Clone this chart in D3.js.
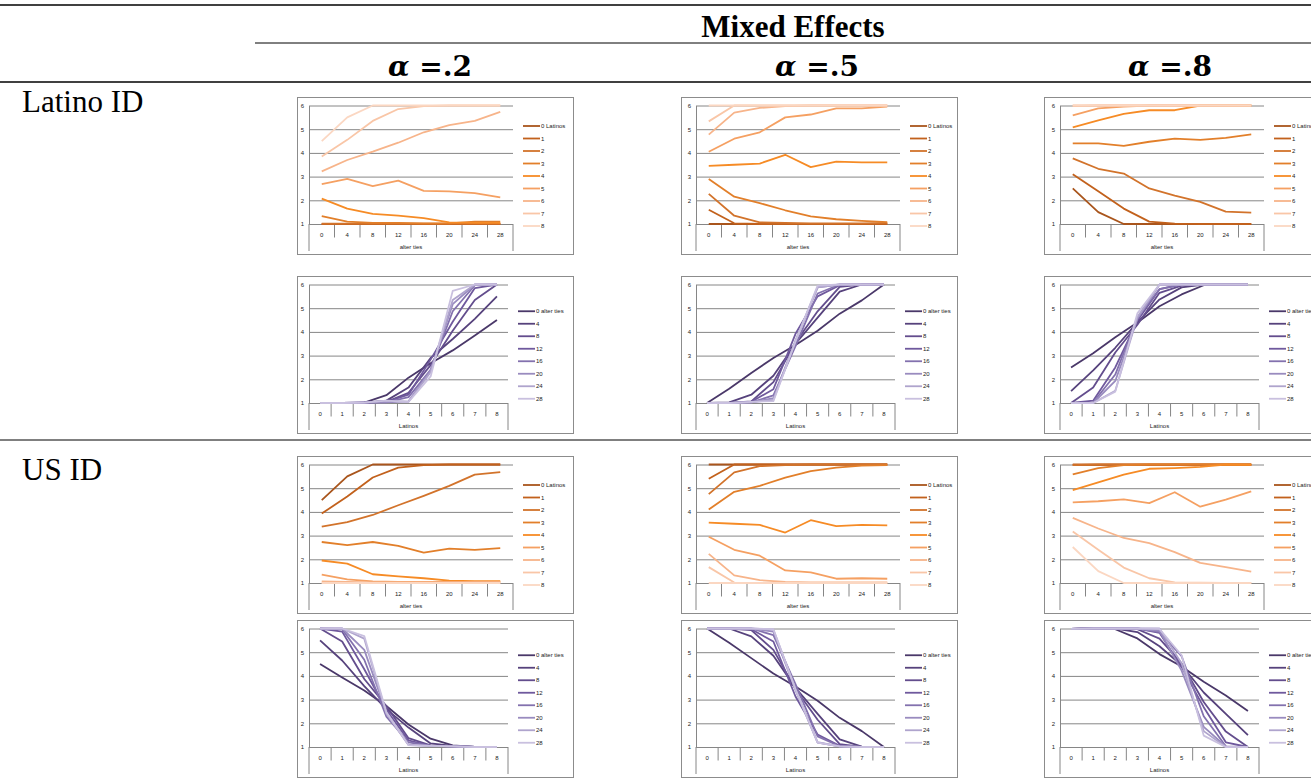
<!DOCTYPE html>
<html>
<head>
    <title>Mixed Effects - Latino ID / US ID</title>
    <script src="https://d3js.org/d3.v7.min.js"></script>
    <style>
        body { margin: 0; background: #fff; }
        svg { display: block; }
        .tick text, .lbl { font-family: "Liberation Sans", Arial, sans-serif; font-size: 6px; fill: #222; }
        .tbl { font-family: "Liberation Serif", "Times New Roman", serif; fill: #000; }
    </style>
</head>
<body>
    <svg width="1311" height="778" id="fig"></svg>

    <script>
        // categories
        const ties = [0, 4, 8, 12, 16, 20, 24, 28];
        const latinos = [0, 1, 2, 3, 4, 5, 6, 7, 8];
        const latinoNames = ["0 Latinos", "1", "2", "3", "4", "5", "6", "7", "8"];
        const tieNames = ["0 alter ties", "4", "8", "12", "16", "20", "24", "28"];
        const alphaLabels = ["=.2", "=.5", "=.8"];
        const rowLabels = ["Latino ID", "US ID"];
        const yTicks = [1, 2, 3, 4, 5, 6];

        // rows = number of Latinos (0..8), columns = alter ties (0..28)
        const latinoId2 = [
            [1, 1, 1, 1, 1, 1, 1, 1],
            [1, 1, 1, 1, 1, 1, 1, 1],
            [1.02, 1.02, 1.02, 1.02, 1.02, 1.02, 1.02, 1.02],
            [1.33, 1.1, 1.05, 1.05, 1.03, 1.03, 1.1, 1.1],
            [2.07, 1.65, 1.43, 1.35, 1.25, 1.07, 1.05, 1.05],
            [2.68, 2.9, 2.6, 2.83, 2.4, 2.38, 2.3, 2.12],
            [3.22, 3.7, 4.05, 4.43, 4.87, 5.17, 5.35, 5.73],
            [3.85, 4.55, 5.35, 5.85, 5.97, 6, 6, 6],
            [4.5, 5.5, 6, 6, 6, 6, 6, 6]
        ];
        const latinoId5 = [
            [1, 1, 1, 1, 1, 1, 1, 1],
            [1.6, 1.03, 1, 1, 1, 1, 1, 1],
            [2.27, 1.35, 1.07, 1.05, 1.03, 1.03, 1.03, 1.05],
            [2.9, 2.15, 1.88, 1.58, 1.32, 1.2, 1.13, 1.08],
            [3.45, 3.5, 3.55, 3.92, 3.4, 3.63, 3.6, 3.6],
            [4.05, 4.6, 4.87, 5.5, 5.62, 5.88, 5.88, 5.95],
            [4.77, 5.7, 5.9, 5.97, 6, 6, 6, 6],
            [5.33, 6, 6, 6, 6, 6, 6, 6],
            [6, 6, 6, 6, 6, 6, 6, 6]
        ];
        const latinoId8 = [
            [2.5, 1.5, 1, 1, 1, 1, 1, 1],
            [3.1, 2.38, 1.65, 1.1, 1.02, 1, 1, 1],
            [3.77, 3.33, 3.13, 2.5, 2.2, 1.93, 1.52, 1.48],
            [4.4, 4.4, 4.3, 4.47, 4.6, 4.55, 4.63, 4.78],
            [5.08, 5.37, 5.65, 5.8, 5.8, 6, 6, 6],
            [5.58, 5.88, 5.95, 6, 6, 6, 6, 6],
            [5.97, 6, 6, 6, 6, 6, 6, 6],
            [6, 6, 6, 6, 6, 6, 6, 6],
            [6, 6, 6, 6, 6, 6, 6, 6]
        ];
        const usId2 = [
            [4.5, 5.5, 6, 6, 6, 6, 6, 6],
            [3.93, 4.65, 5.45, 5.87, 5.97, 6, 6, 6],
            [3.38, 3.57, 3.87, 4.28, 4.68, 5.1, 5.57, 5.68],
            [2.73, 2.6, 2.73, 2.57, 2.28, 2.45, 2.4, 2.47],
            [1.95, 1.82, 1.37, 1.28, 1.2, 1.1, 1.08, 1.08],
            [1.35, 1.15, 1.07, 1.05, 1.05, 1.05, 1.05, 1.05],
            [1.07, 1.05, 1.03, 1.03, 1.03, 1.03, 1.03, 1.03],
            [1, 1, 1, 1, 1, 1, 1, 1],
            [1, 1, 1, 1, 1, 1, 1, 1]
        ];
        const usId5 = [
            [6, 6, 6, 6, 6, 6, 6, 6],
            [5.4, 6, 6, 6, 6, 6, 6, 6],
            [4.75, 5.67, 5.93, 5.97, 6, 6, 6, 6],
            [4.1, 4.85, 5.1, 5.45, 5.72, 5.87, 5.95, 5.97],
            [3.55, 3.5, 3.45, 3.13, 3.65, 3.4, 3.45, 3.43],
            [2.95, 2.4, 2.15, 1.53, 1.45, 1.18, 1.2, 1.18],
            [2.23, 1.32, 1.12, 1.05, 1.03, 1.03, 1.03, 1.03],
            [1.67, 1.02, 1, 1, 1, 1, 1, 1],
            [1, 1, 1, 1, 1, 1, 1, 1]
        ];
        const usId8 = [
            [5.98, 5.98, 5.98, 5.98, 5.98, 5.98, 5.98, 5.98],
            [6, 6, 6, 6, 6, 6, 6, 6],
            [5.97, 6, 6, 6, 6, 6, 6, 6],
            [5.58, 5.85, 5.97, 6, 6, 6, 6, 6],
            [4.92, 5.25, 5.57, 5.82, 5.85, 5.9, 6, 5.98],
            [4.4, 4.45, 4.53, 4.37, 4.83, 4.22, 4.52, 4.87],
            [3.75, 3.3, 2.9, 2.68, 2.3, 1.85, 1.67, 1.48],
            [3.17, 2.4, 1.65, 1.2, 1.03, 1.02, 1, 1],
            [2.52, 1.5, 1, 1, 1, 1, 1, 1]
        ];

        const orangeColors = ["#a9551c", "#c2611c", "#d2732b", "#e27f2a", "#f68b25", "#f5a062", "#f7b48a", "#f9c6a7", "#fbd7c2"];
        const purpleColors = ["#4a3869", "#56427c", "#634d8d", "#6f599d", "#8371ae", "#998bbf", "#afa4cd", "#c9c0df"];

        const svg = d3.select("#fig");

        // ---- table frame & headers ----
        const rule = (x1, x2, y, w) => svg.append("line")
            .attr("x1", x1).attr("x2", x2).attr("y1", y).attr("y2", y)
            .attr("stroke", "#000").attr("stroke-width", w);
        rule(0, 1311, 5, 1.3);
        rule(255, 1311, 43, 1);
        rule(0, 1311, 82, 1.3);
        rule(0, 1311, 440, 1);

        svg.append("text").attr("class", "tbl")
            .attr("x", 793).attr("y", 37).attr("text-anchor", "middle")
            .attr("font-size", 31).attr("font-weight", "bold")
            .text("Mixed Effects");

        const alphaX = [430, 817, 1170];
        alphaLabels.forEach((t, i) => {
            const tx = svg.append("text")
                .attr("x", alphaX[i]).attr("y", 76).attr("text-anchor", "middle")
                .attr("font-family", "'DejaVu Serif', serif").attr("font-size", 28).attr("font-weight", "bold");
            tx.append("tspan").attr("font-style", "italic").text("α");
            tx.append("tspan").text(" " + t);
        });

        rowLabels.forEach((t, i) => {
            svg.append("text").attr("class", "tbl")
                .attr("x", 22).attr("y", [112, 480][i])
                .attr("font-size", 31).text(t);
        });

        // ---- small Excel-like line charts ----
        const boxX = [297, 681, 1044];
        const boxY = [97, 276, 456, 620];
        const axisOff = [12, 15, 16];
        const boxW = 276, boxH = 157;
        const yTop = 8.5, yBot = 127;

        function drawChart(gx, gy, col, cats, series, names, colors, title, plotW) {
            const g = svg.append("g").attr("transform", `translate(${gx},${gy})`);
            g.append("rect").attr("x", 0.5).attr("y", 0.5).attr("width", boxW).attr("height", boxH)
                .attr("fill", "#fff").attr("stroke", "#8c8c8c").attr("stroke-width", 1);

            const ax = axisOff[col];
            const y = d3.scaleLinear().domain([1, 6]).range([yBot, yTop]);
            const x = d3.scaleBand().domain(cats).range([ax, ax + plotW]);

            // gridlines + y axis
            const yAxis = g.append("g").attr("transform", `translate(${ax},0)`)
                .call(d3.axisLeft(y).tickValues(yTicks).tickFormat(d3.format("d"))
                    .tickSize(-plotW).tickSizeOuter(0).tickPadding(5));
            yAxis.select(".domain").attr("stroke", "#868686");
            yAxis.selectAll(".tick line").attr("stroke", "#868686");

            // category axis
            const xAxis = g.append("g").attr("transform", `translate(0,${yBot})`)
                .call(d3.axisBottom(x).tickSize(0).tickPadding(9));
            xAxis.select(".domain").remove();

            const edges = cats.map(c => x(c)).concat([x(cats[cats.length - 1]) + x.bandwidth()]);
            g.selectAll(".sep").data(edges).enter().append("line")
                .attr("x1", d => d).attr("x2", d => d)
                .attr("y1", yBot)
                .attr("y2", (d, i) => (i === 0 || i === edges.length - 1) ? 154 : yBot + 13.5)
                .attr("stroke", "#868686").attr("stroke-width", 1);

            g.append("text").attr("class", "lbl")
                .attr("x", ax + plotW / 2).attr("y", 152).attr("text-anchor", "middle")
                .text(title);

            const line = d3.line()
                .x((d, i) => x(cats[i]) + x.bandwidth() / 2)
                .y(d => y(d));

            g.selectAll(".series").data(series).enter().append("path")
                .attr("d", d => line(d))
                .attr("fill", "none")
                .attr("stroke", (d, i) => colors[i])
                .attr("stroke-width", 1.8)
                .attr("stroke-linejoin", "round");

            // legend
            const lx = ax + plotW + 10;
            const ly0 = 79 - (names.length - 1) / 2 * 12.5;
            const leg = g.selectAll(".leg").data(names).enter().append("g")
                .attr("transform", (d, i) => `translate(${lx},${ly0 + i * 12.5})`);
            leg.append("line").attr("x1", 0).attr("x2", 17)
                .attr("stroke", (d, i) => colors[i]).attr("stroke-width", 1.8);
            leg.append("text").attr("class", "lbl").attr("x", 18).attr("dy", "0.35em").text(d => d);
        }

        const idData = [[latinoId2, latinoId5, latinoId8], [usId2, usId5, usId8]];

        idData.forEach((group, r) => {
            group.forEach((data, c) => {
                // outcome vs alter ties, one line per number of Latinos
                drawChart(boxX[c], boxY[2 * r], c, ties.map(String), data,
                    latinoNames, orangeColors, "alter ties", 204);
                // same values, one line per alter ties count
                const byTies = ties.map((t, j) => data.map(row => row[j]));
                drawChart(boxX[c], boxY[2 * r + 1], c, latinos.map(String), byTies,
                    tieNames, purpleColors, "Latinos", 199);
            });
        });
    </script>
</body>
</html>
